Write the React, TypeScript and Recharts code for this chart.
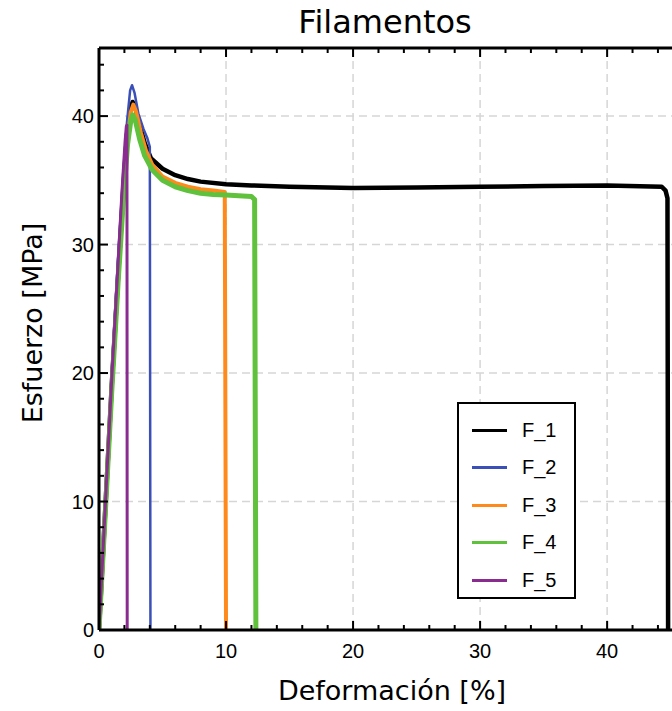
import { LineChart, Line, XAxis, YAxis, CartesianGrid } from "recharts";

// strain [%] / stress [MPa]
const f1Strain = [0, 0.5, 1.0, 1.5, 1.9, 2.2, 2.45, 2.65, 2.85, 3.2, 3.6, 4.1, 5.0, 6.0, 7.0, 8.0, 10, 12, 15, 20, 25, 30, 35, 40, 44.3, 44.6, 44.75, 44.8];
const f1Stress = [0, 9.5, 19, 27.5, 34, 38.5, 40.6, 41.1, 40.7, 39.3, 37.9, 36.7, 35.9, 35.4, 35.1, 34.9, 34.7, 34.6, 34.5, 34.4, 34.45, 34.5, 34.55, 34.6, 34.5, 34.2, 33.6, 0];

const f2Strain = [0, 0.5, 1.0, 1.5, 1.9, 2.2, 2.45, 2.6, 2.8, 3.1, 3.5, 3.8, 4.0, 4.05];
const f2Stress = [0, 10, 20, 29, 35.5, 39.5, 42, 42.4, 41.8, 40.2, 39, 38.3, 37.6, 0];

const f3Strain = [0, 0.5, 1.0, 1.5, 1.9, 2.25, 2.5, 2.7, 2.9, 3.3, 3.7, 4.2, 5.0, 6.0, 7.0, 8.0, 9.0, 9.9, 10.0];
const f3Stress = [0, 9.3, 18.8, 27.3, 33.5, 38.3, 40.3, 40.9, 40.4, 38.7, 37.3, 36.2, 35.3, 34.8, 34.5, 34.3, 34.2, 34.1, 0];

const f4Strain = [0, 0.5, 1.0, 1.5, 1.9, 2.25, 2.5, 2.65, 2.85, 3.2, 3.6, 4.2, 5.0, 6.0, 7.0, 8.0, 9.0, 10, 11, 12, 12.25, 12.35];
const f4Stress = [0, 9.2, 18.5, 27, 33.2, 37.8, 39.6, 40.1, 39.7, 38.2, 36.9, 35.8, 35.0, 34.5, 34.2, 34.0, 33.9, 33.85, 33.8, 33.75, 33.5, 0];

const f5Strain = [0, 0.5, 1.0, 1.5, 1.8, 2.05, 2.15, 2.2, 2.22];
const f5Stress = [0, 9.8, 19.5, 28.5, 34, 38, 39.2, 39.3, 0];

const xTicks = [0, 2, 4, 6, 8, 10, 12, 14, 16, 18, 20, 22, 24, 26, 28, 30, 32, 34, 36, 38, 40, 42, 44];
const yTicks = [0, 2, 4, 6, 8, 10, 12, 14, 16, 18, 20, 22, 24, 26, 28, 30, 32, 34, 36, 38, 40, 42, 44];
const gridValues = [10, 20, 30, 40];

const toPoints = (xs: number[], ys: number[]) => xs.map((x, i) => ({ x, y: ys[i] }));

const series = [
  { name: "F_1", color: "#000000", width: 4.5, data: toPoints(f1Strain, f1Stress) },
  { name: "F_2", color: "#3b4fb8", width: 2.5, data: toPoints(f2Strain, f2Stress) },
  { name: "F_3", color: "#ff8a1c", width: 4, data: toPoints(f3Strain, f3Stress) },
  { name: "F_4", color: "#5fc13c", width: 5, data: toPoints(f4Strain, f4Stress) },
  { name: "F_5", color: "#8a2b8f", width: 3, data: toPoints(f5Strain, f5Stress) },
];

const tickFont = "'Liberation Sans', Arial, sans-serif";
const labelFont = "'DejaVu Sans', Verdana, sans-serif";

function BottomTick(props: any) {
  const { x, y, payload } = props;
  const major = payload.value % 10 === 0;
  return (
    <g>
      <line x1={x} x2={x} y1={y} y2={y - (major ? 9 : 5)} stroke="#000" strokeWidth={2} />
      {major && (
        <text x={x} y={y + 28} textAnchor="middle" fontSize={20} fontFamily={tickFont} fill="#000">
          {payload.value}
        </text>
      )}
    </g>
  );
}

function TopTick(props: any) {
  const { x, y, payload } = props;
  const major = payload.value % 10 === 0;
  return <line x1={x} x2={x} y1={y} y2={y + (major ? 9 : 5)} stroke="#000" strokeWidth={2} />;
}

function LeftTick(props: any) {
  const { x, y, payload } = props;
  const major = payload.value % 10 === 0;
  return (
    <g>
      <line x1={x} x2={x + (major ? 9 : 5)} y1={y} y2={y} stroke="#000" strokeWidth={2} />
      {major && (
        <text x={x - 5} y={y + 7} textAnchor="end" fontSize={20} fontFamily={tickFont} fill="#000">
          {payload.value}
        </text>
      )}
    </g>
  );
}

function XLabel(props: any) {
  const { viewBox } = props;
  const cx = viewBox.x + viewBox.width / 2 + 4;
  return (
    <text x={cx} y={viewBox.y + 70} textAnchor="middle" fontSize={27} fontFamily={labelFont} fill="#000">
      Deformación [%]
    </text>
  );
}

function YLabel(props: any) {
  const { viewBox } = props;
  const cx = viewBox.x - 56;
  const cy = viewBox.y + viewBox.height / 2 - 16;
  return (
    <text
      x={cx}
      y={cy}
      transform={`rotate(-90, ${cx}, ${cy})`}
      textAnchor="middle"
      fontSize={27}
      fontFamily={labelFont}
      fill="#000"
    >
      Esfuerzo [MPa]
    </text>
  );
}

export default function App() {
  return (
    <div style={{ position: "absolute", left: 0, top: 0, width: 672, height: 711, overflow: "hidden", background: "#fff" }}>
      <div
        style={{
          position: "absolute",
          top: 3,
          left: 0,
          width: 770,
          textAlign: "center",
          fontFamily: labelFont,
          fontSize: 32,
          color: "#000",
        }}
      >
        Filamentos
      </div>
      <LineChart width={690} height={711} margin={{ top: 47, right: 13, bottom: 80, left: 98 }}>
        <CartesianGrid
          horizontal
          vertical
          verticalValues={gridValues}
          horizontalValues={gridValues}
          stroke="#d6d6d6"
          strokeWidth={1.5}
          strokeDasharray="8 5"
        />
        <XAxis
          type="number"
          dataKey="x"
          domain={[0, 45.5]}
          ticks={xTicks}
          interval={0}
          height={1}
          tickSize={0}
          tickMargin={0}
          tick={<BottomTick />}
          axisLine={{ stroke: "#000", strokeWidth: 3 }}
          allowDataOverflow
          label={<XLabel />}
        />
        <XAxis
          xAxisId="top"
          orientation="top"
          type="number"
          dataKey="x"
          domain={[0, 45.5]}
          ticks={xTicks}
          interval={0}
          height={1}
          tickSize={0}
          tickMargin={0}
          tick={<TopTick />}
          axisLine={{ stroke: "#000", strokeWidth: 3 }}
          allowDataOverflow
        />
        <YAxis
          type="number"
          dataKey="y"
          domain={[0, 45.3]}
          ticks={yTicks}
          interval={0}
          width={1}
          tickSize={0}
          tickMargin={0}
          tick={<LeftTick />}
          axisLine={{ stroke: "#000", strokeWidth: 3 }}
          allowDataOverflow
          label={<YLabel />}
        />
        {series.map((s) => (
          <Line
            key={s.name}
            data={s.data}
            dataKey="y"
            name={s.name}
            type="linear"
            stroke={s.color}
            strokeWidth={s.width}
            strokeLinejoin="round"
            dot={false}
            activeDot={false}
            isAnimationActive={false}
          />
        ))}
      </LineChart>
      <div
        style={{
          position: "absolute",
          left: 457,
          top: 402,
          width: 115,
          height: 193,
          border: "2px solid #000",
          background: "#fff",
          boxSizing: "content-box",
        }}
      >
        {series.map((s, i) => (
          <div
            key={s.name}
            style={{ position: "absolute", left: 13, top: 12 + i * 37.5, height: 28, display: "flex", alignItems: "center" }}
          >
            <div style={{ width: 35, height: 3, background: s.color }} />
            <span style={{ marginLeft: 15, fontFamily: tickFont, fontSize: 20, color: "#000" }}>{s.name}</span>
          </div>
        ))}
      </div>
    </div>
  );
}
